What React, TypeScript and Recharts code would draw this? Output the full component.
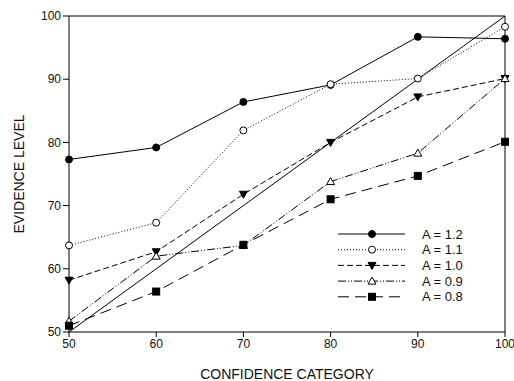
import { LineChart, Line, XAxis, YAxis, ReferenceLine } from 'recharts';

const categories = [50, 60, 70, 80, 90, 100];
const seriesA12 = [77.3, 79.2, 86.4, 89.1, 96.7, 96.4];
const seriesA11 = [63.7, 67.3, 81.9, 89.2, 90.1, 98.3];
const seriesA10 = [58.2, 62.7, 71.8, 80.0, 87.2, 90.1];
const seriesA09 = [51.7, 62.0, 63.7, 73.8, 78.3, 90.1];
const seriesA08 = [51.0, 56.4, 63.8, 71.0, 74.7, 80.1];
const identity = [50, 60, 70, 80, 90, 100];
const xTicks = [50, 60, 70, 80, 90, 100];
const yTicks = [50, 60, 70, 80, 90, 100];

const data = categories.map((c, i) => ({
  x: c,
  a12: seriesA12[i],
  a11: seriesA11[i],
  a10: seriesA10[i],
  a09: seriesA09[i],
  a08: seriesA08[i],
  ref: identity[i],
}));

type Shape = 'circle' | 'openCircle' | 'downTri' | 'openTri' | 'square';

const series: { key: string; name: string; dash: string; shape: Shape }[] = [
  { key: 'a12', name: 'A = 1.2', dash: '', shape: 'circle' },
  { key: 'a11', name: 'A = 1.1', dash: '1 2', shape: 'openCircle' },
  { key: 'a10', name: 'A = 1.0', dash: '6 3', shape: 'downTri' },
  { key: 'a09', name: 'A = 0.9', dash: '8 2 1 2 1 2', shape: 'openTri' },
  { key: 'a08', name: 'A = 0.8', dash: '11 6', shape: 'square' },
];

const font = "Arial, 'Liberation Sans', sans-serif";

function Marker({ shape, cx, cy }: { shape: Shape; cx: number; cy: number }) {
  if (cx == null || cy == null) return null;
  switch (shape) {
    case 'circle':
      return <circle cx={cx} cy={cy} r={3.5} fill="#000" stroke="#000" />;
    case 'openCircle':
      return <circle cx={cx} cy={cy} r={3.5} fill="#fff" stroke="#000" />;
    case 'downTri':
      return <path d={`M${cx - 4},${cy - 3} L${cx + 4},${cy - 3} L${cx},${cy + 4} Z`} fill="#000" stroke="#000" />;
    case 'openTri':
      return <path d={`M${cx - 4},${cy + 3} L${cx + 4},${cy + 3} L${cx},${cy - 4} Z`} fill="#fff" stroke="#000" />;
    case 'square':
      return <rect x={cx - 3.5} y={cy - 3.5} width={7} height={7} fill="#000" stroke="#000" />;
  }
  return null;
}

function LegendBox() {
  return (
    <svg width={160} height={90} style={{ position: 'absolute', left: 338, top: 226, overflow: 'visible' }}>
      {series.map((s, i) => {
        const y = 8 + i * 15.7;
        return (
          <g key={s.key}>
            <line x1={0} x2={67} y1={y} y2={y} stroke="#000" strokeWidth={1} strokeDasharray={s.dash || undefined} />
            <Marker shape={s.shape} cx={34} cy={y} />
            <text x={84} y={y + 4.5} fontSize={13} fontFamily={font} fill="#111">
              {s.name}
            </text>
          </g>
        );
      })}
    </svg>
  );
}

export default function App() {
  return (
    <div style={{ position: 'absolute', left: 0, top: 0, width: 514, height: 381, background: '#fff' }}>
      <LineChart width={514} height={381} data={data} margin={{ top: 16, right: 9, bottom: 0, left: 29 }}>
        <XAxis
          dataKey="x"
          type="number"
          domain={[50, 100]}
          ticks={xTicks}
          stroke="#000"
          tickSize={5}
          tick={{ fill: '#111', fontSize: 12, fontFamily: font }}
          height={49}
          label={{ value: 'CONFIDENCE CATEGORY', position: 'insideBottom', offset: 2, fill: '#111', fontSize: 14, fontFamily: font }}
        />
        <YAxis
          type="number"
          domain={[50, 100]}
          ticks={yTicks}
          stroke="#000"
          tickSize={6}
          width={40}
          tick={{ fill: '#111', fontSize: 12, fontFamily: font }}
          label={{ value: 'EVIDENCE LEVEL', angle: -90, position: 'insideLeft', offset: -10, fill: '#111', fontSize: 14, fontFamily: font, style: { textAnchor: 'middle' } }}
        />
        <ReferenceLine y={100} stroke="#000" />
        <ReferenceLine x={100} stroke="#000" />
        <Line dataKey="ref" stroke="#000" strokeWidth={1} dot={false} isAnimationActive={false} legendType="none" />
        {series.map((s) => (
          <Line
            key={s.key}
            dataKey={s.key}
            name={s.name}
            stroke="#000"
            strokeWidth={1}
            strokeDasharray={s.dash || undefined}
            isAnimationActive={false}
            dot={(p: any) => <Marker key={`${s.key}-${p.index}`} shape={s.shape} cx={p.cx} cy={p.cy} />}
            activeDot={false}
          />
        ))}
      </LineChart>
      <LegendBox />
    </div>
  );
}
